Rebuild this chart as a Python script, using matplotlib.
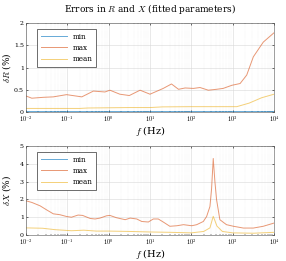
import numpy as np
import matplotlib
matplotlib.use("Agg")
import matplotlib.pyplot as plt
from matplotlib.ticker import NullFormatter, FixedLocator

plt.rcParams['mathtext.fontset'] = 'cm'
plt.rcParams['font.family'] = 'serif'
plt.rcParams['font.serif'] = ['DejaVu Serif']

# --- data (log10 of frequency in Hz, error in %)
logf_R_max = [-2, -1.86, -1.58, -1.34, -1.02, -0.65, -0.37, -0.09, 0.03, 0.27, 0.5, 0.76, 1.0,
              1.32, 1.52, 1.69, 1.85, 2.05, 2.21, 2.41, 2.61, 2.77, 2.98, 3.18, 3.34, 3.5, 3.74, 4.0]
R_max = [0.36, 0.31, 0.33, 0.34, 0.39, 0.34, 0.47, 0.45, 0.49, 0.40, 0.37, 0.49, 0.40,
         0.53, 0.63, 0.51, 0.54, 0.53, 0.55, 0.49, 0.51, 0.53, 0.60, 0.64, 0.83, 1.24, 1.57, 1.78]
logf_R_mean = [-2, -0.7, -0.5, 0.5, 1.0, 1.3, 2.0, 3.1, 3.4, 3.7, 4.0]
R_mean = [0.08, 0.08, 0.09, 0.10, 0.10, 0.115, 0.12, 0.12, 0.20, 0.32, 0.40]
logf_R_min = [-2, 4.0]
R_min = [0.015, 0.015]

logf_X_max = [-2, -1.86, -1.66, -1.5, -1.34, -1.18, -1.02, -0.9, -0.74, -0.63, -0.45, -0.33, -0.21,
              -0.05, 0.03, 0.19, 0.4, 0.52, 0.68, 0.8, 0.96, 1.08, 1.2, 1.32, 1.48, 1.65, 1.81,
              2.01, 2.13, 2.29, 2.37, 2.45, 2.49, 2.53, 2.57, 2.61, 2.69, 2.85, 3.02, 3.26, 3.5, 3.74, 4.0]
X_max = [1.92, 1.83, 1.64, 1.41, 1.19, 1.14, 1.04, 1.0, 1.12, 1.10, 0.93, 0.90, 0.95,
         1.08, 1.10, 0.97, 0.86, 0.95, 0.90, 0.76, 0.73, 0.90, 0.90, 0.73, 0.49, 0.52, 0.58,
         0.52, 0.58, 0.76, 1.04, 1.6, 2.6, 4.3, 3.0, 2.0, 0.86, 0.58, 0.49, 0.39, 0.39, 0.49, 0.67]
logf_X_mean = [-2, -1.6, -1.3, -0.9, -0.6, -0.3, 0, 0.5, 1.0, 1.5, 2.0, 2.3, 2.45, 2.53, 2.62, 2.75, 3.0, 3.5, 4.0]
X_mean = [0.40, 0.38, 0.30, 0.24, 0.27, 0.22, 0.22, 0.20, 0.17, 0.15, 0.12, 0.20, 0.40, 1.05, 0.50, 0.20, 0.12, 0.10, 0.15]
logf_X_min = [-2, 4.0]
X_min = [0.015, 0.015]

decades = [-2, -1, 0, 1, 2, 3, 4]
decade_labels = [r'$10^{-2}$', r'$10^{-1}$', r'$10^{0}$', r'$10^{1}$', r'$10^{2}$', r'$10^{3}$', r'$10^{4}$']

c_min, c_max, c_mean = '#0072BD', '#D95319', '#EDB120'

fig = plt.figure(figsize=(2.86, 2.61), dpi=100)
ax1 = fig.add_axes([26/286, 1 - 112/261, 248/286, 89/261])
ax2 = fig.add_axes([26/286, 1 - 235/261, 248/286, 89/261])

def style(ax, ymax, ylab):
    ax.set_xscale('log')
    ax.set_xlim(1e-2, 1e4)
    ax.set_ylim(0, ymax)
    ax.set_xticks([10.0**d for d in decades])
    ax.set_xticklabels(decade_labels)
    minors = [m * 10.0**d for d in decades[:-1] for m in range(2, 10)]
    ax.xaxis.set_minor_locator(FixedLocator(minors))
    ax.xaxis.set_minor_formatter(NullFormatter())
    ax.grid(True, which='major', color='#d8d8d8', lw=0.4)
    ax.grid(True, which='minor', color='#e4e4e4', lw=0.3, ls=':')
    ax.tick_params(labelsize=4.5, length=1.5, width=0.4, direction='in', pad=1.5, top=True, right=True)
    ax.tick_params(which='minor', length=0.8, width=0.3, direction='in', top=True, right=True)
    for s in ax.spines.values():
        s.set_linewidth(0.4)
        s.set_color('#555555')
    ax.set_xlabel(r'$f$ (Hz)', fontsize=7, labelpad=0)
    ax.set_ylabel(ylab, fontsize=6.5)
    ax.yaxis.set_label_coords(-0.052, 0.5)
    leg = ax.legend(loc='upper left', bbox_to_anchor=(11/248, 1 - 6/89), fontsize=5.2,
                    frameon=True, fancybox=False, edgecolor='#333333', handlelength=3.6,
                    borderaxespad=0, labelspacing=0.45, borderpad=0.5, framealpha=1)
    leg.get_frame().set_linewidth(0.5)

ax1.plot(10**np.array(logf_R_min), R_min, color=c_min, lw=0.7, alpha=0.6, label='min')
ax1.plot(10**np.array(logf_R_max), R_max, color=c_max, lw=0.7, alpha=0.6, label='max')
ax1.plot(10**np.array(logf_R_mean), R_mean, color=c_mean, lw=0.7, alpha=0.6, label='mean')
ax1.set_yticks([0, 0.5, 1, 1.5, 2])
ax1.set_yticklabels(['0', '0.5', '1', '1.5', '2'])
style(ax1, 2, r'$\delta R$ (%)')
ax1.set_title(r'Errors in $R$ and $X$ (fitted parameters)', fontsize=6.5, pad=8)

ax2.plot(10**np.array(logf_X_min), X_min, color=c_min, lw=0.7, alpha=0.6, label='min')
ax2.plot(10**np.array(logf_X_max), X_max, color=c_max, lw=0.7, alpha=0.6, label='max')
ax2.plot(10**np.array(logf_X_mean), X_mean, color=c_mean, lw=0.7, alpha=0.6, label='mean')
ax2.set_yticks([0, 1, 2, 3, 4, 5])
style(ax2, 5, r'$\delta X$ (%)')

fig.savefig('out.png', dpi=100)
